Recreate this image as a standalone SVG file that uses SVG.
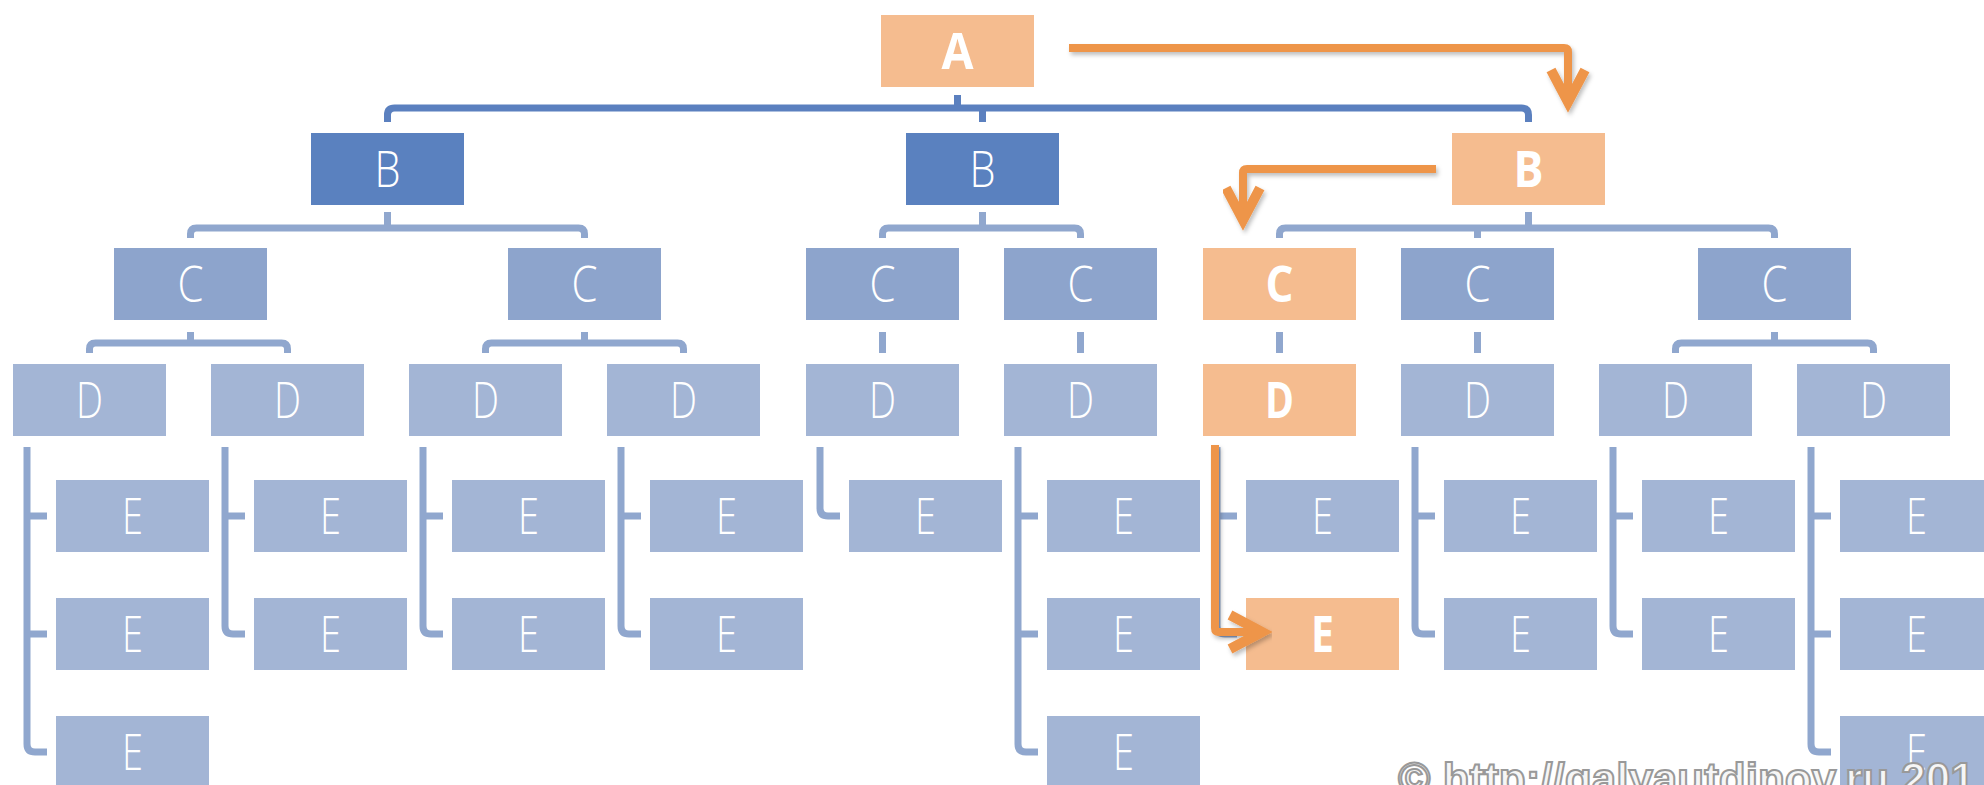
<svg xmlns="http://www.w3.org/2000/svg" width="1984" height="785" viewBox="0 0 1984 785">
<defs>
<style>
.hl{fill:#F5BC8F}
.b{fill:#5A81BF}
.c{fill:#8DA4CC}
.d{fill:#A3B5D5}
.lbl{font-family:"Open Sans","Roboto","Liberation Sans",sans-serif;font-size:50px;fill:#fff;text-anchor:middle;font-weight:300}
.lbl.s{font-weight:700}
.bus1{fill:none;stroke:#5B80BF;stroke-width:7}
.bus{fill:none;stroke:#90A7CE;stroke-width:7}
.flow{fill:none;stroke:#EE9549;stroke-width:8;stroke-linejoin:round;marker-end:url(#chev);filter:url(#sh)}
.wm{font-family:"Liberation Sans",Arial,sans-serif;font-weight:700;font-size:44px;fill:#f6f6f6;stroke:#999;stroke-width:2}
</style>
<marker id="chev" markerUnits="userSpaceOnUse" viewBox="-45 -30 62 60" markerWidth="62" markerHeight="60" refX="0" refY="0" orient="auto">
<path d="M-32,-17 L0,0 L-32,17" fill="none" stroke="#EE9549" stroke-width="10" stroke-linejoin="miter" stroke-miterlimit="6" stroke-linecap="butt"/>
</marker>
<filter id="sh" x="-10%" y="-10%" width="130%" height="140%">
<feDropShadow dx="2" dy="3" stdDeviation="2" flood-color="#000" flood-opacity="0.25"/>
</filter>
</defs>
<rect width="1984" height="785" fill="#fff"/>

<g id="connectors">
<path class="bus1" d="M387.5,122 V115 Q387.5,108 394.5,108 H1521.5 Q1528.5,108 1528.5,115 V122 M957.5,95 V108 M982.5,108 V122"/>
<path class="bus" d="M190.5,238 V234 Q190.5,228 196.5,228 H578.5 Q584.5,228 584.5,234 V238 M387.5,212 V228"/>
<path class="bus" d="M882.5,238 V234 Q882.5,228 888.5,228 H1074.5 Q1080.5,228 1080.5,234 V238 M982.5,212 V228"/>
<path class="bus" d="M1279.5,238 V234 Q1279.5,228 1285.5,228 H1768.5 Q1774.5,228 1774.5,234 V238 M1528.5,212 V228 M1477.5,228 V238"/>
<path class="bus" d="M89.5,353 V349 Q89.5,343 95.5,343 H281.5 Q287.5,343 287.5,349 V353 M190.5,332 V343"/>
<path class="bus" d="M485.5,353 V349 Q485.5,343 491.5,343 H677.5 Q683.5,343 683.5,349 V353 M584.5,332 V343"/>
<path class="bus" d="M1675.5,353 V349 Q1675.5,343 1681.5,343 H1867.5 Q1873.5,343 1873.5,349 V353 M1774.5,332 V343"/>
<path class="bus" d="M882.5,332 V353 M1080.5,332 V353 M1279.5,332 V353 M1477.5,332 V353"/>
<path class="bus" d="M27,447 V744 Q27,752 35,752 H47 M27,516 H47 M27,634 H47"/>
<path class="bus" d="M225,447 V626 Q225,634 233,634 H245 M225,516 H245"/>
<path class="bus" d="M423,447 V626 Q423,634 431,634 H443 M423,516 H443"/>
<path class="bus" d="M621,447 V626 Q621,634 629,634 H641 M621,516 H641"/>
<path class="bus" d="M820,447 V508 Q820,516 828,516 H840"/>
<path class="bus" d="M1018,447 V744 Q1018,752 1026,752 H1038 M1018,516 H1038 M1018,634 H1038"/>
<path class="bus" d="M1217,447 V626 Q1217,634 1225,634 H1237 M1217,516 H1237"/>
<path class="bus" d="M1415,447 V626 Q1415,634 1423,634 H1435 M1415,516 H1435"/>
<path class="bus" d="M1613,447 V626 Q1613,634 1621,634 H1633 M1613,516 H1633"/>
<path class="bus" d="M1811,447 V744 Q1811,752 1819,752 H1831 M1811,516 H1831 M1811,634 H1831"/>
</g>

<g id="A"><rect class="hl" x="881" y="15" width="153" height="72"/><text class="lbl s" x="957.5" y="69" textLength="32" lengthAdjust="spacingAndGlyphs">A</text></g>

<g id="B1"><rect class="b" x="311" y="133" width="153" height="72"/><text class="lbl" x="387.5" y="187" textLength="26" lengthAdjust="spacingAndGlyphs">B</text></g>
<g id="B2"><rect class="b" x="906" y="133" width="153" height="72"/><text class="lbl" x="982.5" y="187" textLength="26" lengthAdjust="spacingAndGlyphs">B</text></g>
<g id="B3"><rect class="hl" x="1452" y="133" width="153" height="72"/><text class="lbl s" x="1528.5" y="187" textLength="30" lengthAdjust="spacingAndGlyphs">B</text></g>

<g id="C1"><rect class="c" x="114" y="248" width="153" height="72"/><text class="lbl" x="190.5" y="302" textLength="26" lengthAdjust="spacingAndGlyphs">C</text></g>
<g id="C2"><rect class="c" x="508" y="248" width="153" height="72"/><text class="lbl" x="584.5" y="302" textLength="26" lengthAdjust="spacingAndGlyphs">C</text></g>
<g id="C3"><rect class="c" x="806" y="248" width="153" height="72"/><text class="lbl" x="882.5" y="302" textLength="26" lengthAdjust="spacingAndGlyphs">C</text></g>
<g id="C4"><rect class="c" x="1004" y="248" width="153" height="72"/><text class="lbl" x="1080.5" y="302" textLength="26" lengthAdjust="spacingAndGlyphs">C</text></g>
<g id="C5"><rect class="hl" x="1203" y="248" width="153" height="72"/><text class="lbl s" x="1279.5" y="302" textLength="28" lengthAdjust="spacingAndGlyphs">C</text></g>
<g id="C6"><rect class="c" x="1401" y="248" width="153" height="72"/><text class="lbl" x="1477.5" y="302" textLength="26" lengthAdjust="spacingAndGlyphs">C</text></g>
<g id="C7"><rect class="c" x="1698" y="248" width="153" height="72"/><text class="lbl" x="1774.5" y="302" textLength="26" lengthAdjust="spacingAndGlyphs">C</text></g>

<g id="D1"><rect class="d" x="13" y="364" width="153" height="72"/><text class="lbl" x="89.5" y="418" textLength="27" lengthAdjust="spacingAndGlyphs">D</text></g>
<g id="D2"><rect class="d" x="211" y="364" width="153" height="72"/><text class="lbl" x="287.5" y="418" textLength="27" lengthAdjust="spacingAndGlyphs">D</text></g>
<g id="D3"><rect class="d" x="409" y="364" width="153" height="72"/><text class="lbl" x="485.5" y="418" textLength="27" lengthAdjust="spacingAndGlyphs">D</text></g>
<g id="D4"><rect class="d" x="607" y="364" width="153" height="72"/><text class="lbl" x="683.5" y="418" textLength="27" lengthAdjust="spacingAndGlyphs">D</text></g>
<g id="D5"><rect class="d" x="806" y="364" width="153" height="72"/><text class="lbl" x="882.5" y="418" textLength="27" lengthAdjust="spacingAndGlyphs">D</text></g>
<g id="D6"><rect class="d" x="1004" y="364" width="153" height="72"/><text class="lbl" x="1080.5" y="418" textLength="27" lengthAdjust="spacingAndGlyphs">D</text></g>
<g id="D7"><rect class="hl" x="1203" y="364" width="153" height="72"/><text class="lbl s" x="1279.5" y="418" textLength="29" lengthAdjust="spacingAndGlyphs">D</text></g>
<g id="D8"><rect class="d" x="1401" y="364" width="153" height="72"/><text class="lbl" x="1477.5" y="418" textLength="27" lengthAdjust="spacingAndGlyphs">D</text></g>
<g id="D9"><rect class="d" x="1599" y="364" width="153" height="72"/><text class="lbl" x="1675.5" y="418" textLength="27" lengthAdjust="spacingAndGlyphs">D</text></g>
<g id="D10"><rect class="d" x="1797" y="364" width="153" height="72"/><text class="lbl" x="1873.5" y="418" textLength="27" lengthAdjust="spacingAndGlyphs">D</text></g>

<g id="E1a"><rect class="d" x="56" y="480" width="153" height="72"/><text class="lbl" x="132.5" y="534" textLength="21" lengthAdjust="spacingAndGlyphs">E</text></g>
<g id="E1b"><rect class="d" x="56" y="598" width="153" height="72"/><text class="lbl" x="132.5" y="652" textLength="21" lengthAdjust="spacingAndGlyphs">E</text></g>
<g id="E1c"><rect class="d" x="56" y="716" width="153" height="72"/><text class="lbl" x="132.5" y="770" textLength="21" lengthAdjust="spacingAndGlyphs">E</text></g>
<g id="E2a"><rect class="d" x="254" y="480" width="153" height="72"/><text class="lbl" x="330.5" y="534" textLength="21" lengthAdjust="spacingAndGlyphs">E</text></g>
<g id="E2b"><rect class="d" x="254" y="598" width="153" height="72"/><text class="lbl" x="330.5" y="652" textLength="21" lengthAdjust="spacingAndGlyphs">E</text></g>
<g id="E3a"><rect class="d" x="452" y="480" width="153" height="72"/><text class="lbl" x="528.5" y="534" textLength="21" lengthAdjust="spacingAndGlyphs">E</text></g>
<g id="E3b"><rect class="d" x="452" y="598" width="153" height="72"/><text class="lbl" x="528.5" y="652" textLength="21" lengthAdjust="spacingAndGlyphs">E</text></g>
<g id="E4a"><rect class="d" x="650" y="480" width="153" height="72"/><text class="lbl" x="726.5" y="534" textLength="21" lengthAdjust="spacingAndGlyphs">E</text></g>
<g id="E4b"><rect class="d" x="650" y="598" width="153" height="72"/><text class="lbl" x="726.5" y="652" textLength="21" lengthAdjust="spacingAndGlyphs">E</text></g>
<g id="E5a"><rect class="d" x="849" y="480" width="153" height="72"/><text class="lbl" x="925.5" y="534" textLength="21" lengthAdjust="spacingAndGlyphs">E</text></g>
<g id="E6a"><rect class="d" x="1047" y="480" width="153" height="72"/><text class="lbl" x="1123.5" y="534" textLength="21" lengthAdjust="spacingAndGlyphs">E</text></g>
<g id="E6b"><rect class="d" x="1047" y="598" width="153" height="72"/><text class="lbl" x="1123.5" y="652" textLength="21" lengthAdjust="spacingAndGlyphs">E</text></g>
<g id="E6c"><rect class="d" x="1047" y="716" width="153" height="72"/><text class="lbl" x="1123.5" y="770" textLength="21" lengthAdjust="spacingAndGlyphs">E</text></g>
<g id="E7a"><rect class="d" x="1246" y="480" width="153" height="72"/><text class="lbl" x="1322.5" y="534" textLength="21" lengthAdjust="spacingAndGlyphs">E</text></g>
<g id="E7b"><rect class="hl" x="1246" y="598" width="153" height="72"/><text class="lbl s" x="1322.5" y="652" textLength="23" lengthAdjust="spacingAndGlyphs">E</text></g>
<g id="E8a"><rect class="d" x="1444" y="480" width="153" height="72"/><text class="lbl" x="1520.5" y="534" textLength="21" lengthAdjust="spacingAndGlyphs">E</text></g>
<g id="E8b"><rect class="d" x="1444" y="598" width="153" height="72"/><text class="lbl" x="1520.5" y="652" textLength="21" lengthAdjust="spacingAndGlyphs">E</text></g>
<g id="E9a"><rect class="d" x="1642" y="480" width="153" height="72"/><text class="lbl" x="1718.5" y="534" textLength="21" lengthAdjust="spacingAndGlyphs">E</text></g>
<g id="E9b"><rect class="d" x="1642" y="598" width="153" height="72"/><text class="lbl" x="1718.5" y="652" textLength="21" lengthAdjust="spacingAndGlyphs">E</text></g>
<g id="E10a"><rect class="d" x="1840" y="480" width="153" height="72"/><text class="lbl" x="1916.5" y="534" textLength="21" lengthAdjust="spacingAndGlyphs">E</text></g>
<g id="E10b"><rect class="d" x="1840" y="598" width="153" height="72"/><text class="lbl" x="1916.5" y="652" textLength="21" lengthAdjust="spacingAndGlyphs">E</text></g>
<g id="E10c"><rect class="d" x="1840" y="716" width="153" height="72"/><text class="lbl" x="1916.5" y="770" textLength="21" lengthAdjust="spacingAndGlyphs">E</text></g>

<g id="flow">
<path class="flow" d="M1069,48 H1564 Q1568,48 1568,52 V102"/>
<path class="flow" d="M1436,169 H1247 Q1243,169 1243,173 V220"/>
<path class="flow" d="M1332,293 V377"/>
<path class="flow" d="M1215,445 V628 Q1215,632 1219,632 H1262"/>
</g>

<text class="wm" x="1398" y="794">© http://galyautdinov.ru 201</text>
</svg>
